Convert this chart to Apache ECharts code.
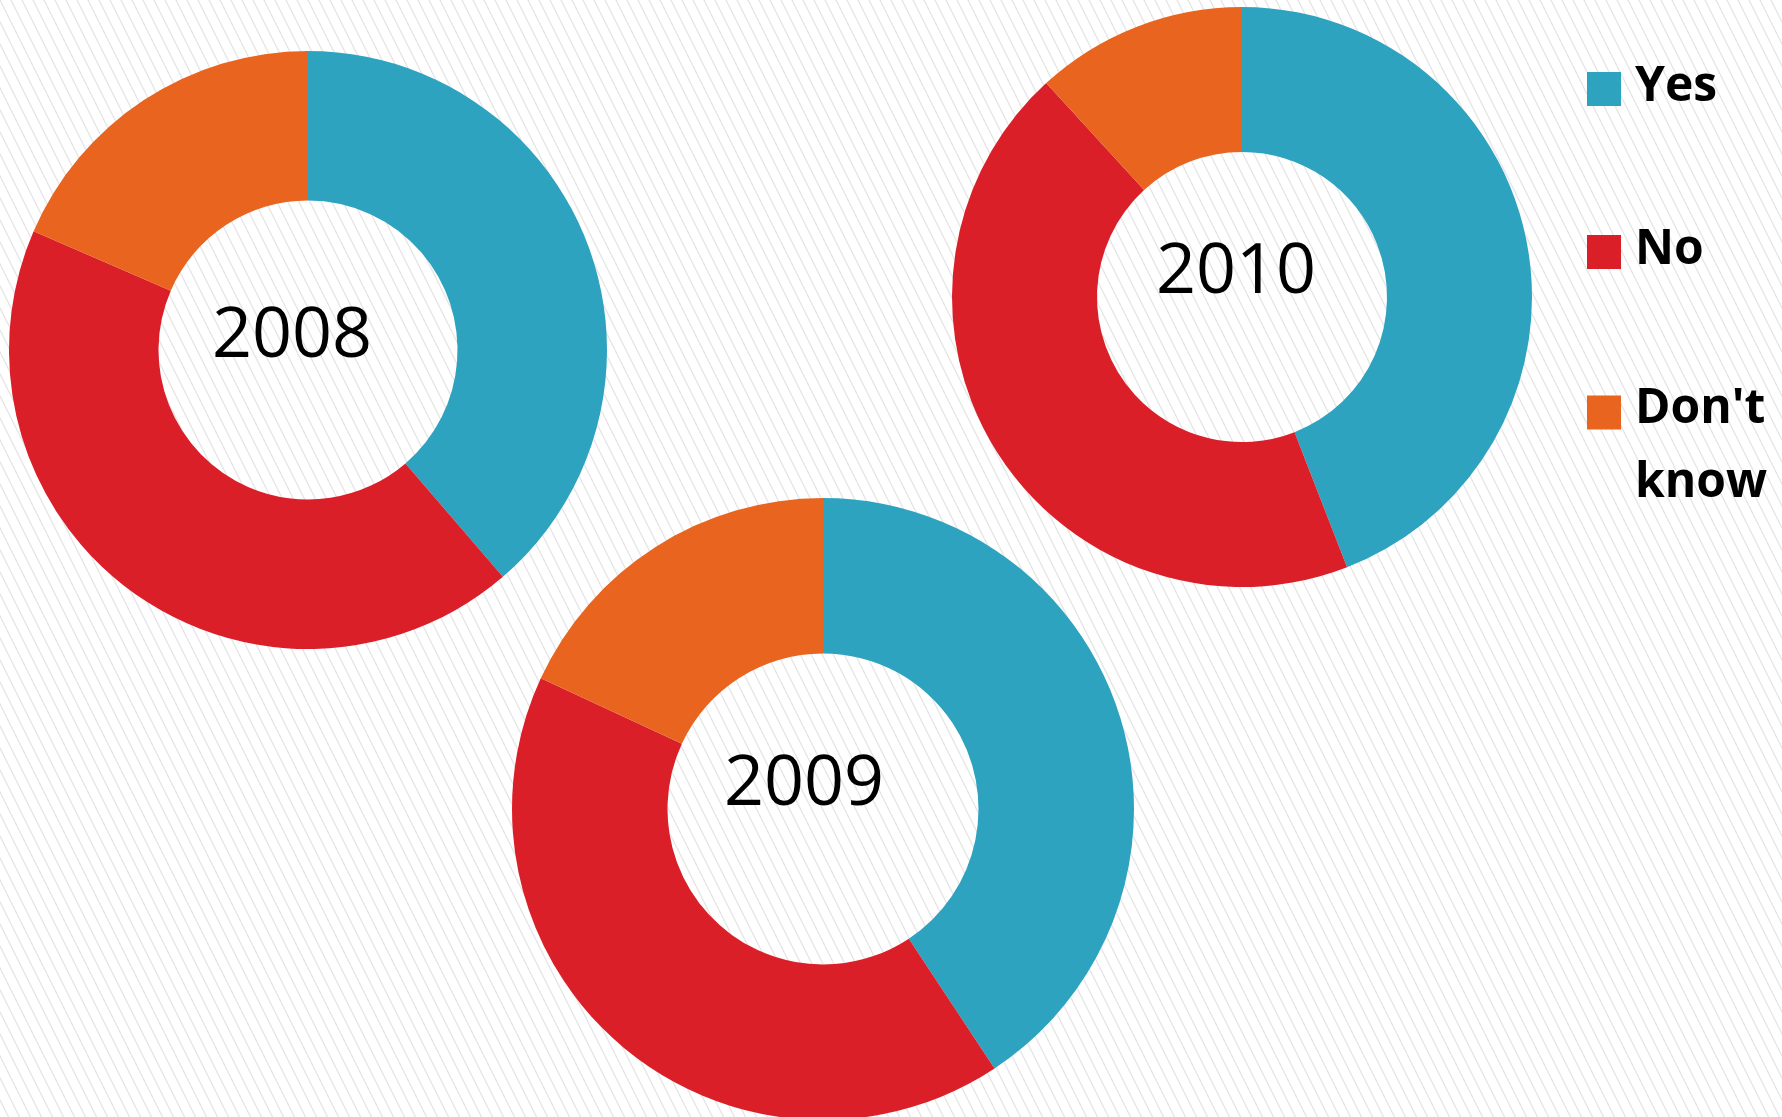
<!DOCTYPE html>
<html>
<head>
<meta charset="utf-8">
<script src="https://cdn.jsdelivr.net/npm/echarts@6/dist/echarts.min.js"></script>
<style>
  html, body { margin: 0; padding: 0; background: #fff; }
  #grafico { width: 1782px; height: 1117px; }
</style>
</head>
<body>
<div id="grafico"></div>
<script>
// Datos
const anios = ['2008', '2009', '2010'];
const categorias = ['Yes', 'No', "Don't know"];
const valoresYes = [38.7, 40.7, 44.1];
const valoresNo = [42.8, 41.2, 44.1];
const valoresNoSabe = [18.5, 18.1, 11.8];
const colores = ['#2ea3c0', '#da1f29', '#e8641f'];

// Posición de cada anillo (centro x, centro y, radio exterior)
const centros = [[308, 350], [823, 809], [1242, 297]];
const radios = [299, 311, 290];
// desplazamiento del texto del año respecto al centro
const desplazTexto = [[-16, -13], [-19, -24], [-6, -24]];

// Fondo rayado
function crearPatron() {
    const c = document.createElement('canvas');
    c.width = 11;
    c.height = 22;
    const ctx = c.getContext('2d');
    ctx.fillStyle = '#ffffff';
    ctx.fillRect(0, 0, 11, 22);
    ctx.strokeStyle = '#e6e6e6';
    ctx.lineWidth = 1.3;
    for (let k = -1; k <= 1; k++) {
        ctx.beginPath();
        ctx.moveTo(k * 11 - 11, -22);
        ctx.lineTo(k * 11 + 22, 44);
        ctx.stroke();
    }
    return c;
}

function datosDelAnio(i) {
    const valores = [valoresYes[i], valoresNo[i], valoresNoSabe[i]];
    return categorias.map((nombre, j) => ({ name: nombre, value: valores[j] }));
}

function crearGrafico() {
    const series = anios.map((anio, i) => ({
        name: anio,
        type: 'pie',
        center: centros[i],
        radius: [radios[i] / 2, radios[i]],
        startAngle: 90,
        clockwise: true,
        silent: true,
        avoidLabelOverlap: false,
        label: { show: false },
        labelLine: { show: false },
        emphasis: { disabled: true },
        itemStyle: { borderWidth: 0 },
        data: datosDelAnio(i)
    }));

    const textos = anios.map((anio, i) => ({
        type: 'text',
        x: centros[i][0] + desplazTexto[i][0],
        y: centros[i][1] + desplazTexto[i][1],
        style: {
            text: anio,
            fill: '#000',
            font: '70px "Open Sans"',
            textAlign: 'center',
            textVerticalAlign: 'middle'
        }
    }));

    // líneas vacías para alinear el texto con el cuadrado
    const formatoLeyenda = n => n === "Don't know"
        ? "{t| }\nDon't\nknow"
        : n + "\n{b| }";

    const leyendas = [
        { data: ['Yes'], top: 50 },
        { data: ['No'], top: 213 },
        { data: ["Don't know"], top: 305 }
    ].map(l => ({
        data: l.data,
        left: 1587,
        top: l.top,
        orient: 'vertical',
        padding: 0,
        itemWidth: 34,
        itemHeight: 34,
        icon: 'rect',
        selectedMode: false,
        formatter: formatoLeyenda,
        textStyle: {
            fontFamily: 'Open Sans',
            fontWeight: 'bold',
            fontSize: 48,
            color: '#000',
            lineHeight: 74,
            padding: [0, 0, 0, 9],
            rich: {
                t: { lineHeight: 67, fontSize: 10 },
                b: { lineHeight: 4, fontSize: 4 }
            }
        }
    }));

    return {
        backgroundColor: { image: crearPatron(), repeat: 'repeat' },
        color: colores,
        animation: false,
        legend: leyendas,
        graphic: textos,
        series: series
    };
}

const myChart = echarts.init(document.getElementById('grafico'), null, { renderer: 'canvas' });
myChart.setOption(crearGrafico());
</script>
</body>
</html>
